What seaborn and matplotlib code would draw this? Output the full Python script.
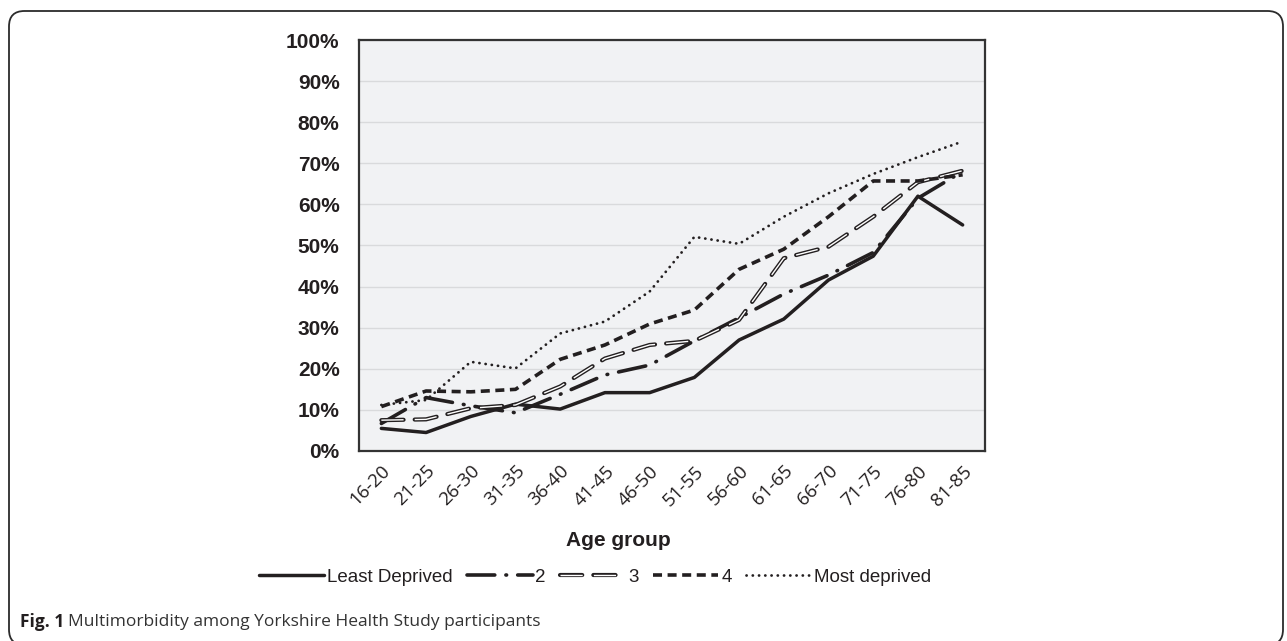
import matplotlib
matplotlib.use("Agg")
import matplotlib.pyplot as plt
import seaborn as sns
import numpy as np
import pandas as pd
from matplotlib.ticker import PercentFormatter, MultipleLocator
from matplotlib.patches import FancyBboxPatch
from matplotlib.legend_handler import HandlerTuple

age_groups = ["16-20", "21-25", "26-30", "31-35", "36-40", "41-45", "46-50",
              "51-55", "56-60", "61-65", "66-70", "71-75", "76-80", "81-85"]
least_deprived = [5.5, 4.5, 8.4, 11.4, 10.2, 14.2, 14.2, 17.9, 27.0, 32.1, 41.6, 47.4, 62.0, 55.0]
quint_2 = [6.7, 13.0, 11.0, 9.3, 13.8, 18.5, 20.9, 26.8, 32.4, 38.2, 42.8, 48.3, 61.5, 68.0]
quint_3 = [7.5, 7.7, 10.4, 11.2, 15.7, 22.5, 25.8, 26.8, 31.9, 46.9, 49.7, 57.0, 65.4, 68.2]
quint_4 = [10.8, 14.6, 14.4, 15.0, 22.3, 25.8, 30.9, 34.3, 44.2, 49.1, 57.0, 65.7, 65.7, 67.2]
most_deprived = [11.2, 12.4, 21.7, 20.1, 28.6, 31.5, 38.8, 52.1, 50.4, 57.0, 62.7, 67.4, 71.5, 75.3]
series_labels = ["Least Deprived", "2", "3", "4", "Most deprived"]

sns.set_style("white")
plt.rcParams["lines.scale_dashes"] = False
plt.rcParams["font.family"] = ["Liberation Sans", "DejaVu Sans"]

W, H = 1287, 641
fig = plt.figure(figsize=(W / 100, H / 100), dpi=100)
fig.patch.set_facecolor("white")

# rounded outer frame (bottom edge runs just off the image)
frame = FancyBboxPatch((9 / W, -4 / H), (1283 - 9) / W, (630 + 4) / H,
                       boxstyle="round,pad=0,rounding_size=0.012",
                       transform=fig.transFigure, facecolor="none",
                       edgecolor="#2b2b2b", linewidth=1.3, mutation_aspect=W / H)
fig.patches.append(frame)

L, R, T, B = 359, 985, 40, 451
ax = fig.add_axes([L / W, (H - B) / H, (R - L) / W, (B - T) / H])
ax.set_facecolor("#f1f2f4")

ink = "#231f20"

def to_frac(v):
    return np.array(v) / 100.0

sns.lineplot(x=age_groups, y=to_frac(least_deprived), ax=ax, sort=False,
             color=ink, linewidth=2.5, solid_capstyle="round", solid_joinstyle="round")
l1 = ax.lines[-1]

sns.lineplot(x=age_groups, y=to_frac(quint_2), ax=ax, sort=False, color=ink,
             linewidth=2.6, linestyle=(0, (20, 8, 0.5, 8)), dash_capstyle="round")
l2 = ax.lines[-1]

sns.lineplot(x=age_groups, y=to_frac(quint_3), ax=ax, sort=False, color=ink,
             linewidth=3.0, linestyle=(0, (16, 8)), dash_capstyle="round")
l3a = ax.lines[-1]
sns.lineplot(x=age_groups, y=to_frac(quint_3), ax=ax, sort=False, color="white",
             linewidth=1.0, linestyle=(0, (16, 8)), dash_capstyle="butt")
l3b = ax.lines[-1]

sns.lineplot(x=age_groups, y=to_frac(quint_4), ax=ax, sort=False, color=ink,
             linewidth=2.6, linestyle=(0, (6.5, 4)), dash_capstyle="butt")
l4 = ax.lines[-1]

sns.lineplot(x=age_groups, y=to_frac(most_deprived), ax=ax, sort=False, color=ink,
             linewidth=2.0, linestyle=(0, (0.1, 4.4)), dash_capstyle="round")
l5 = ax.lines[-1]

ax.set_xlim(-0.5, len(age_groups) - 0.5)
ax.set_ylim(0, 1)
ax.yaxis.set_major_locator(MultipleLocator(0.1))
ax.yaxis.set_major_formatter(PercentFormatter(1.0, decimals=0))
ax.grid(axis="y", color="#d9dadc", linewidth=1.0)
ax.set_axisbelow(True)
for s in ax.spines.values():
    s.set_color("#333333")
    s.set_linewidth(1.6)

ax.tick_params(axis="y", direction="out", length=6, width=1.2, color="#555555",
               labelsize=15, pad=8, labelcolor=ink)
ax.tick_params(axis="x", direction="out", length=4, width=1.0, color="#555555",
               labelsize=13.5, pad=4, labelcolor=ink)
for lab in ax.get_yticklabels():
    lab.set_fontweight("bold")
ax.set_xticks(range(len(age_groups)))
ax.set_xticklabels(age_groups, rotation=45, ha="right", rotation_mode="anchor",
                   family=["Open Sans", "DejaVu Sans"])
ax.set_xlabel("")
ax.set_ylabel("")

fig.text(618 / W, (H - 540) / H, "Age group", ha="center", va="center",
         fontsize=15, fontweight="bold", color=ink)

leg = fig.legend([l1, l2, (l3a, l3b), l4, l5], series_labels,
                 loc="center", bbox_to_anchor=(595 / W, (H - 577) / H),
                 ncol=5, frameon=False, fontsize=13.5, handlelength=3.5,
                 handletextpad=0.15, columnspacing=0.75,
                 handler_map={tuple: HandlerTuple(ndivide=1)})
for t in leg.get_texts():
    t.set_color(ink)

renderer = fig.canvas.get_renderer()
t1 = fig.text(20 / W, (H - 622) / H, "Fig. 1", ha="left", va="center",
              fontsize=12.5, fontweight="bold", color=ink,
              family=["Open Sans", "DejaVu Sans"])
bb = t1.get_window_extent(renderer=renderer)
fig.text((bb.x1 + 4) / W, (H - 622) / H,
         "Multimorbidity among Yorkshire Health Study participants",
         ha="left", va="center", fontsize=12.5, color="#333333",
         family=["Open Sans", "DejaVu Sans"])

fig.savefig("out.png", dpi=100, facecolor="white")
